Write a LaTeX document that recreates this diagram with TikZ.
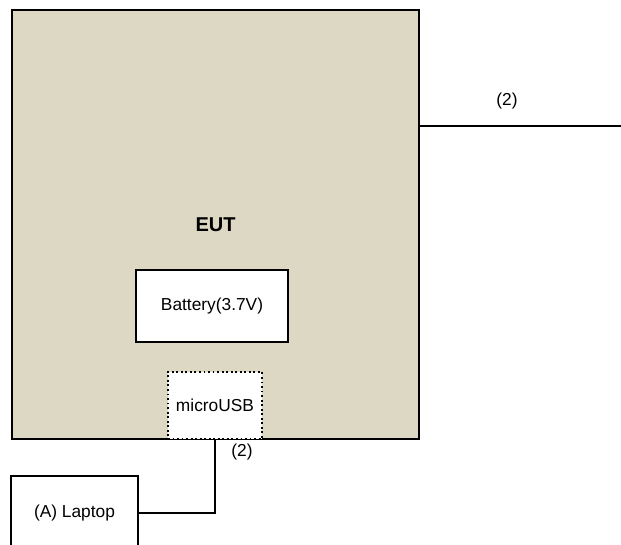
\documentclass[tikz,border=0pt]{standalone}
\usepackage{fontspec}
\setmainfont{Liberation Sans}
\usetikzlibrary{positioning}
\definecolor{eutfill}{RGB}{221,216,196}

\begin{document}
\begin{tikzpicture}[
  x=0.75pt, y=-0.75pt,
  box/.style={draw, line width=1.4pt, fill=white, align=center, font=\fontsize{13}{15}\selectfont, inner sep=0pt},
  port/.style={box, dotted, line width=1.4pt},
  wire/.style={line width=1.5pt},
  tag/.style={font=\fontsize{13}{15}\selectfont},
]
  \useasboundingbox (0,0) rectangle (621,544);
  \node[box, fill=eutfill, minimum width=305.25pt, minimum height=321.75pt, font=\fontsize{15}{17}\selectfont\bfseries] (eut) at (215.5,224.5) {EUT};
  \node[box, minimum width=114pt, minimum height=54pt] (battery) at (212,306) {Battery(3.7V)};
  \node[port, minimum width=70.5pt, minimum height=50.25pt] (usb) at (215,405.5) {microUSB};
  \node[box, minimum width=95.25pt, minimum height=55.5pt] (laptop) at (74.5,513) {(A) Laptop};
  \coordinate (tap) at (419,126);
  \coordinate (farend) at (621,126);
  \draw[wire] (tap) -- (farend);
  \draw[wire] (usb.south) |- (laptop.east);
  \node[tag] (lbltop) at (507,101) {(2)};
  \node[tag] (lblbot) at (242,452) {(2)};
\end{tikzpicture}
\end{document}
